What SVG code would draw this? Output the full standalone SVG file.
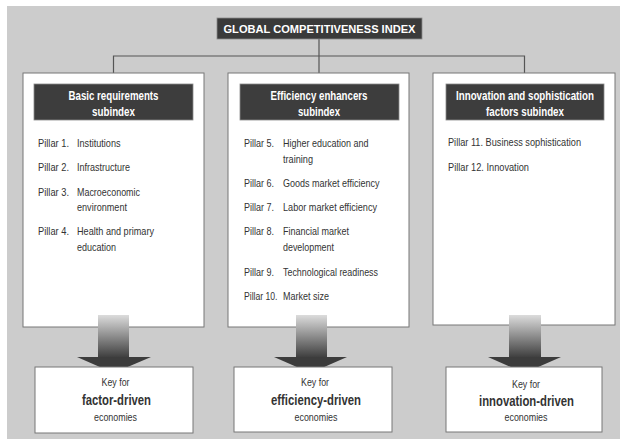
<svg xmlns="http://www.w3.org/2000/svg" width="620" height="439" viewBox="0 0 620 439">
<defs>
<linearGradient id="shaft" x1="0" y1="0" x2="0" y2="1">
<stop offset="0" stop-color="#dcdcdc"/>
<stop offset="1" stop-color="#3c3c3c"/>
</linearGradient>
<style>
text{font-family:"Liberation Sans",Arial,sans-serif}
.box{fill:#fff;stroke:#777;stroke-width:1}
.hdr{fill:#3d3d3d;stroke:#8a8a8a;stroke-width:0.8}
.ht{font-weight:bold;font-size:12.5px;fill:#fff;text-anchor:middle}
.pt{font-size:11px;fill:#333}
.k{font-size:10px;fill:#333;text-anchor:middle}
.kb{font-weight:bold;font-size:14.5px;fill:#333;text-anchor:middle}
.ln{fill:none;stroke:#555;stroke-width:1.2}
.head{fill:#3c3c3c}
</style>
</defs>
<rect x="7" y="6" width="613" height="433" fill="#cccccc"/>

<g id="connectors">
<path class="ln" d="M319 39V56M113.5 73V56H524.5V73M319 56V73"/>
</g>

<g id="title">
<rect x="217" y="18" width="205" height="21" fill="#3a3a3a" stroke="#8a8a8a" stroke-width="0.8"/>
<text x="319.5" y="32.5" font-weight="bold" font-size="10.5" fill="#fff" text-anchor="middle" textLength="192" lengthAdjust="spacingAndGlyphs">GLOBAL COMPETITIVENESS INDEX</text>
</g>

<g id="basic">
<rect class="box" x="23" y="73" width="181" height="254"/>
<rect class="hdr" x="34" y="84" width="159" height="36"/>
<text class="ht" x="113.5" y="99.5" textLength="90" lengthAdjust="spacingAndGlyphs">Basic requirements</text>
<text class="ht" x="113.5" y="115.5" textLength="43" lengthAdjust="spacingAndGlyphs">subindex</text>
<text class="pt" x="38" y="147" textLength="31" lengthAdjust="spacingAndGlyphs">Pillar 1.</text><text class="pt" x="77" y="147" textLength="43.5" lengthAdjust="spacingAndGlyphs">Institutions</text>
<text class="pt" x="38" y="171" textLength="31" lengthAdjust="spacingAndGlyphs">Pillar 2.</text><text class="pt" x="77" y="171" textLength="53" lengthAdjust="spacingAndGlyphs">Infrastructure</text>
<text class="pt" x="38" y="196" textLength="31" lengthAdjust="spacingAndGlyphs">Pillar 3.</text><text class="pt" x="77" y="196" textLength="63" lengthAdjust="spacingAndGlyphs">Macroeconomic</text>
<text class="pt" x="77" y="211" textLength="50" lengthAdjust="spacingAndGlyphs">environment</text>
<text class="pt" x="38" y="235" textLength="31" lengthAdjust="spacingAndGlyphs">Pillar 4.</text><text class="pt" x="77" y="235" textLength="77" lengthAdjust="spacingAndGlyphs">Health and primary</text>
<text class="pt" x="77" y="251" textLength="39" lengthAdjust="spacingAndGlyphs">education</text>
</g>

<g id="efficiency">
<rect class="box" x="228" y="73" width="181" height="254"/>
<rect class="hdr" x="240" y="84" width="159" height="36"/>
<text class="ht" x="319" y="99.5" textLength="97" lengthAdjust="spacingAndGlyphs">Efficiency enhancers</text>
<text class="ht" x="319" y="115.5" textLength="42" lengthAdjust="spacingAndGlyphs">subindex</text>
<text class="pt" x="244" y="147" textLength="30" lengthAdjust="spacingAndGlyphs">Pillar 5.</text><text class="pt" x="283" y="147" textLength="85.5" lengthAdjust="spacingAndGlyphs">Higher education and</text>
<text class="pt" x="283" y="163" textLength="30" lengthAdjust="spacingAndGlyphs">training</text>
<text class="pt" x="244" y="187" textLength="30" lengthAdjust="spacingAndGlyphs">Pillar 6.</text><text class="pt" x="283" y="187" textLength="96.5" lengthAdjust="spacingAndGlyphs">Goods market efficiency</text>
<text class="pt" x="244" y="211" textLength="30" lengthAdjust="spacingAndGlyphs">Pillar 7.</text><text class="pt" x="283" y="211" textLength="94" lengthAdjust="spacingAndGlyphs">Labor market efficiency</text>
<text class="pt" x="244" y="235" textLength="30" lengthAdjust="spacingAndGlyphs">Pillar 8.</text><text class="pt" x="283" y="235" textLength="66" lengthAdjust="spacingAndGlyphs">Financial market</text>
<text class="pt" x="283" y="251" textLength="51" lengthAdjust="spacingAndGlyphs">development</text>
<text class="pt" x="244" y="276" textLength="30" lengthAdjust="spacingAndGlyphs">Pillar 9.</text><text class="pt" x="283" y="276" textLength="95" lengthAdjust="spacingAndGlyphs">Technological readiness</text>
<text class="pt" x="244" y="300" textLength="33.5" lengthAdjust="spacingAndGlyphs">Pillar 10.</text><text class="pt" x="283" y="300" textLength="46" lengthAdjust="spacingAndGlyphs">Market size</text>
</g>

<g id="innovation">
<rect class="box" x="433" y="73" width="182" height="252"/>
<rect class="hdr" x="446" y="84" width="158" height="36"/>
<text class="ht" transform="translate(525 99.5) scale(0.78 1)" x="0" y="0">Innovation and sophistication</text>
<text class="ht" transform="translate(525 116) scale(0.78 1)" x="0" y="0">factors subindex</text>
<text class="pt" x="448" y="146" textLength="133" lengthAdjust="spacingAndGlyphs">Pillar 11. Business sophistication</text>
<text class="pt" x="448" y="171" textLength="81" lengthAdjust="spacingAndGlyphs">Pillar 12. Innovation</text>
</g>

<g id="arrow1">
<rect x="98" y="315" width="31" height="43" fill="url(#shaft)"/>
<polygon class="head" points="77,357 151,357 113.5,373"/>
</g>
<g id="arrow2">
<rect x="296" y="315" width="31" height="43" fill="url(#shaft)"/>
<polygon class="head" points="274,357 347,357 310.5,373"/>
</g>
<g id="arrow3">
<rect x="509" y="315" width="32" height="43" fill="url(#shaft)"/>
<polygon class="head" points="488,357 561,357 524.5,373"/>
</g>

<g id="key-factor">
<rect class="box" x="35" y="367" width="158" height="66"/>
<text class="k" x="115.5" y="386" textLength="28" lengthAdjust="spacingAndGlyphs">Key for</text>
<text class="kb" x="116.5" y="404.5" textLength="69" lengthAdjust="spacingAndGlyphs">factor-driven</text>
<text class="k" x="115.5" y="421" textLength="43" lengthAdjust="spacingAndGlyphs">economies</text>
</g>
<g id="key-efficiency">
<rect class="box" x="234" y="367" width="158" height="65"/>
<text class="k" x="315" y="386" textLength="28" lengthAdjust="spacingAndGlyphs">Key for</text>
<text class="kb" x="316" y="404.5" textLength="90" lengthAdjust="spacingAndGlyphs">efficiency-driven</text>
<text class="k" x="316" y="421" textLength="43" lengthAdjust="spacingAndGlyphs">economies</text>
</g>
<g id="key-innovation">
<rect class="box" x="446" y="367" width="156" height="65"/>
<text class="k" x="526" y="388" textLength="28" lengthAdjust="spacingAndGlyphs">Key for</text>
<text class="kb" x="526.5" y="406" textLength="95" lengthAdjust="spacingAndGlyphs">innovation-driven</text>
<text class="k" x="526" y="421" textLength="43" lengthAdjust="spacingAndGlyphs">economies</text>
</g>
</svg>
